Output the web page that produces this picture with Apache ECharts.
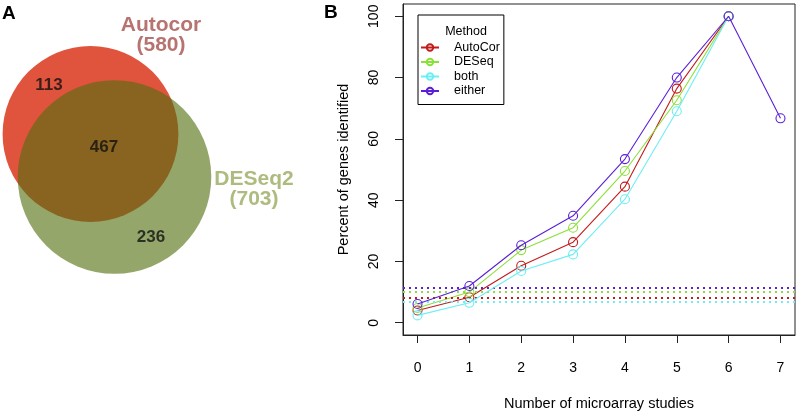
<!DOCTYPE html>
<html>
<head>
<meta charset="utf-8">
<script src="https://cdn.jsdelivr.net/npm/echarts@6/dist/echarts.min.js"></script>
<style>
  html, body { margin: 0; padding: 0; background: #fff; }
  #chart { width: 797px; height: 416px; }
</style>
</head>
<body>
<div id="chart"></div>
<script>
// panel B data
const studies = [0, 1, 2, 3, 4, 5, 6, 7];
const methods = ['AutoCor', 'DESeq', 'both', 'either'];
const autocor = [4.0, 8.3, 18.6, 26.3, 44.4, 76.4, 100];
const deseq = [4.8, 10.0, 23.7, 31.0, 49.5, 72.6, 100];
const both = [2.4, 6.5, 16.9, 22.3, 40.3, 69.0, 100];
const either = [6.1, 12.0, 25.3, 34.9, 53.4, 80.0, 100, 66.7];
const baselines = [8.3, 10.0, 6.7, 11.5];
const yTicks = [0, 20, 40, 60, 80, 100];

// panel A data
const vennSets = ['Autocor', 'DESeq2'];
const vennTotals = [580, 703];
const vennRegions = [113, 467, 236]; // Autocor only, both, DESeq2 only

const lineColors = ['#c41a1a', '#8be03a', '#6ceef5', '#5a1fd6'];
const methodValues = [autocor, deseq, both, either];
const font = 'Liberation Sans, Arial, Helvetica, sans-serif';

const lineSeries = methods.map((m, i) => ({
  name: m,
  type: 'line',
  xAxisIndex: 0,
  yAxisIndex: 0,
  data: methodValues[i].map((v, j) => [studies[j], v]),
  symbol: 'circle',
  symbolSize: 9,
  lineStyle: { width: 1.1, color: lineColors[i] },
  itemStyle: { color: 'rgba(255,255,255,0)', borderColor: lineColors[i], borderWidth: 1.1 },
  z: 3 + i,
  markLine: {
    silent: true,
    symbol: 'none',
    label: { show: false },
    lineStyle: { type: [2, 4], width: 2, color: lineColors[i] },
    data: [{ yAxis: baselines[i] }]
  }
}));

// venn layout (pixel-like coords on a hidden grid)
const vennCenters = [[90.5, 134], [114.5, 177]];
const vennFill = ['#e0533d', '#52700f'];
const vennScale = 7.3;

const vennSeries = vennSets.map((s, i) => ({
  name: s,
  type: 'scatter',
  xAxisIndex: 1,
  yAxisIndex: 1,
  silent: true,
  symbol: 'circle',
  symbolSize: vennScale * Math.sqrt(vennTotals[i]),
  itemStyle: { color: vennFill[i], opacity: i === 0 ? 1 : 0.62 },
  data: [vennCenters[i]],
  z: 1 + i
}));

const regionPos = [[49, 85], [104, 147], [151, 237]];
const setLabelPos = [[161, 35], [254, 189]];
const setLabelColor = ['#a5504c', '#98ab5e'];

const vennText = {
  type: 'scatter',
  xAxisIndex: 1,
  yAxisIndex: 1,
  silent: true,
  symbolSize: 0,
  z: 5,
  data: vennRegions.map((v, i) => ({
    value: regionPos[i],
    label: { show: true, position: 'inside', formatter: String(v), color: '#111', fontSize: 17, fontWeight: 'bold', fontFamily: font }
  })).concat(vennSets.map((s, i) => ({
    value: setLabelPos[i],
    label: { show: true, position: 'inside', formatter: s + '\n(' + vennTotals[i] + ')', color: setLabelColor[i], fontSize: 21, lineHeight: 20, fontWeight: 'bold', fontFamily: font }
  })))
};

const option = {
  animation: false,
  backgroundColor: '#fff',
  textStyle: { fontFamily: font },
  title: {
    text: 'Method',
    left: 461,
    top: 20,
    textAlign: 'center',
    z: 20,
    textStyle: { fontSize: 12.5, fontWeight: 'normal', color: '#000', fontFamily: font }
  },
  legend: {
    data: methods,
    orient: 'vertical',
    left: 418,
    top: 15,
    padding: [26, 4, 7, 2],
    itemGap: 1.5,
    itemWidth: 18,
    itemHeight: 8,
    borderColor: '#000',
    borderWidth: 1,
    backgroundColor: '#fff',
    textStyle: { fontSize: 12.5, lineHeight: 12.8, color: '#000', padding: [0, 0, 0, 10], fontFamily: font },
    z: 10
  },
  grid: [
    { left: 403, top: 4, right: 2, bottom: 77, show: true, borderColor: '#222', borderWidth: 1, backgroundColor: 'transparent' },
    { left: 0, top: 0, width: 260, height: 290, show: false }
  ],
  xAxis: [
    {
      type: 'value',
      gridIndex: 0,
      min: -0.28,
      max: 7.28,
      name: 'Number of microarray studies',
      nameLocation: 'middle',
      nameGap: 61,
      nameTextStyle: { fontSize: 14.5, color: '#000', fontFamily: font },
      axisLine: { show: true, onZero: false, lineStyle: { color: '#222' } },
      axisTick: { show: true, length: 8, lineStyle: { color: '#222' }, customValues: studies },
      axisLabel: { fontSize: 14, color: '#000', margin: 26, customValues: studies, fontFamily: font },
      splitLine: { show: false }
    },
    { type: 'value', gridIndex: 1, min: 0, max: 260, show: false }
  ],
  yAxis: [
    {
      type: 'value',
      gridIndex: 0,
      min: -4,
      max: 104,
      name: 'Percent of genes identified',
      nameLocation: 'middle',
      nameGap: 52,
      nameTextStyle: { fontSize: 14.5, color: '#000', fontFamily: font },
      axisLine: { show: true, onZero: false, lineStyle: { color: '#222' } },
      axisTick: { show: true, length: 8, lineStyle: { color: '#222' }, customValues: yTicks },
      axisLabel: { fontSize: 14, color: '#000', margin: 22, rotate: 90, customValues: yTicks, fontFamily: font },
      splitLine: { show: false }
    },
    { type: 'value', gridIndex: 1, min: 0, max: 290, inverse: true, show: false }
  ],
  graphic: [
    { type: 'text', left: 2, top: 4, style: { text: 'A', fontSize: 19, fontWeight: 'bold', fill: '#000', fontFamily: font } },
    { type: 'text', left: 324, top: 3, style: { text: 'B', fontSize: 19, fontWeight: 'bold', fill: '#000', fontFamily: font } }
  ],
  series: vennSeries.concat([vennText]).concat(lineSeries)
};

const chart = echarts.init(document.getElementById('chart'));
chart.setOption(option);
</script>
</body>
</html>
